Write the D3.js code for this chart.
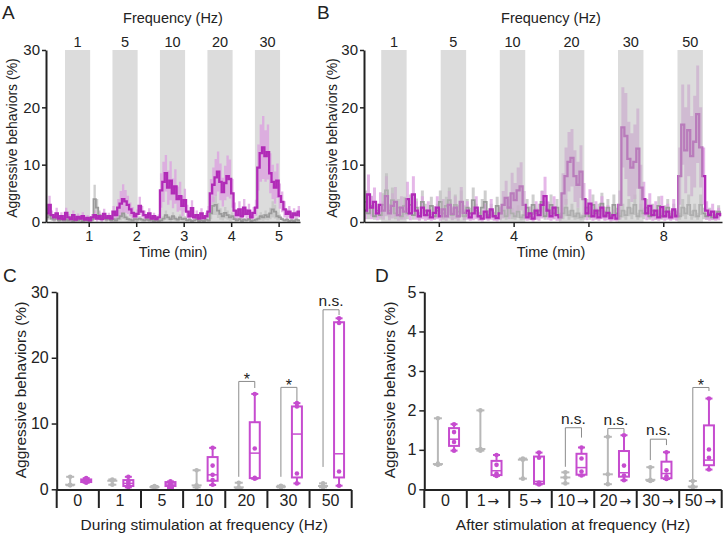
<!DOCTYPE html>
<html>
<head>
<meta charset="utf-8">
<script src="https://cdn.jsdelivr.net/npm/d3@7"></script>
<style>
body { margin: 0; background: #fff; }
svg { display: block; font-family: "Liberation Sans", Arial, sans-serif; }
</style>
</head>
<body>
<svg id="fig" width="725" height="535"></svg>
<script>
// ---- panel A : time course, 1-30 Hz (mean and sem, % aggressive behaviours) ----
var tA0 = 0.1, dtA = 0.05;
var bandStartA = [0.5, 1.5, 2.5, 3.5, 4.5], bandWA = 0.53;
var freqA = ["1", "5", "10", "20", "30"];
var ticksA = [1, 2, 3, 4, 5];
var magA = [1.5,3.0,1.2,0.8,1.5,0.6,1.0,0.5,
  1.6,0.8,0.5,1.2,0.4,0.9,0.6,1.0,0.4,0.7,0.3,0.8,
  1.2,0.6,1.0,0.5,1.4,0.7,1.0,0.6,
  1.8,1.2,2.5,3.2,4.0,3.6,3.0,2.2,1.6,1.0,1.4,
  2.8,1.8,1.2,0.8,1.5,0.6,1.0,0.5,0.8,
  5.5,7.0,8.5,6.0,7.2,5.0,6.2,4.0,4.5,2.8,3.8,
  1.8,1.0,2.4,0.8,1.2,0.6,1.5,0.7,1.0,1.8,
  5.0,6.5,7.8,8.8,7.0,5.2,6.8,8.0,7.5,5.0,2.0,
  1.2,2.2,1.0,2.5,1.4,2.0,0.8,1.6,2.5,
  9.5,12.0,13.0,11.5,12.2,8.5,7.0,6.0,7.2,4.5,3.5,
  2.2,1.4,1.8,0.8,1.5,1.2,1.8,0.9];
var magSemA = [1.0,1.6,0.8,0.6,1.0,0.5,0.7,0.4,
  0.9,0.6,0.4,0.8,0.4,0.6,0.5,0.7,0.4,0.5,0.3,0.6,
  0.8,0.5,0.7,0.4,0.9,0.5,0.6,0.5,
  1.0,0.8,1.5,2.2,2.6,2.0,1.6,1.2,1.0,0.7,0.8,
  1.6,1.0,0.8,0.6,0.9,0.5,0.6,0.4,0.5,
  3.0,3.5,3.2,3.0,3.4,2.6,3.0,2.2,2.5,1.8,2.0,
  1.2,0.7,1.4,0.5,0.8,0.5,0.9,0.5,0.6,1.0,
  2.5,3.0,3.2,3.5,3.2,2.5,3.0,3.6,3.4,2.5,1.4,
  0.8,1.4,0.7,1.5,0.9,1.2,0.6,1.0,1.4,
  4.0,5.0,5.5,4.5,4.8,3.5,3.0,2.8,3.0,2.2,1.8,
  1.4,0.9,1.0,0.6,0.9,0.7,1.0,0.6];
var greyA = [0.8,1.2,0.6,0.4,0.9,0.3,0.5,0.3,
  0.4,0.3,0.5,0.2,0.4,0.3,0.5,0.2,0.4,0.3,0.6,0.4,
  4.0,2.5,1.2,0.5,0.8,0.4,0.6,0.3,
  0.5,0.3,0.6,1.0,1.5,0.8,0.5,0.4,0.3,0.5,0.4,
  0.6,0.4,0.3,0.5,0.3,0.4,0.2,0.3,0.2,
  0.3,0.6,1.2,0.8,0.5,1.0,0.6,0.4,0.8,0.5,0.6,
  0.3,0.4,0.2,0.3,0.5,0.2,0.3,0.2,0.4,0.3,
  1.5,2.8,3.0,2.0,1.4,1.0,1.6,1.2,0.8,1.0,0.5,
  0.3,0.5,0.2,0.4,0.3,0.5,0.2,0.3,0.4,
  0.6,1.0,0.8,1.2,0.9,1.5,2.2,1.8,1.0,0.8,0.5,
  0.3,0.4,0.2,0.3,0.2,0.4,0.3,0.2];
var greySemA = [0.5,0.8,0.4,0.3,0.6,0.2,0.4,0.2,
  0.3,0.2,0.3,0.2,0.3,0.2,0.3,0.2,0.3,0.2,0.4,0.3,
  2.5,1.5,0.8,0.4,0.5,0.3,0.4,0.2,
  0.4,0.2,0.4,0.7,1.0,0.5,0.4,0.3,0.2,0.3,0.3,
  0.4,0.3,0.2,0.3,0.2,0.3,0.2,0.2,0.2,
  0.2,0.4,0.8,0.5,0.4,0.7,0.4,0.3,0.5,0.3,0.4,
  0.2,0.3,0.2,0.2,0.3,0.2,0.2,0.2,0.3,0.2,
  1.0,1.6,1.8,1.3,1.0,0.7,1.0,0.8,0.6,0.7,0.4,
  0.2,0.3,0.2,0.3,0.2,0.3,0.2,0.2,0.3,
  0.4,0.7,0.6,0.8,0.6,1.0,1.4,1.2,0.7,0.5,0.3,
  0.2,0.3,0.2,0.2,0.2,0.3,0.2,0.2];

// ---- panel B : time course, 1-50 Hz ----
var tB0 = 0, dtB = 0.08;
var bandStartB = [0.46, 2.05, 3.63, 5.21, 6.79, 8.38], bandWB = 0.68;
var freqB = ["1", "5", "10", "20", "30", "50"];
var ticksB = [2, 4, 6, 8];
var magB = [2.0,4.8,2.5,3.5,1.5,3.0,
  2.0,4.5,1.5,2.8,3.5,1.2,2.5,1.8,4.0,
  1.5,4.8,2.0,1.0,2.5,1.2,2.0,0.8,1.6,2.5,1.0,
  2.2,1.0,3.0,1.4,2.5,1.0,3.5,1.6,2.0,
  0.8,1.5,2.5,1.0,0.6,1.8,0.8,2.2,1.0,0.7,1.5,
  3.0,4.2,2.5,5.0,3.8,5.5,6.2,3.0,
  0.8,1.5,0.6,2.0,1.2,3.0,4.5,2.0,1.0,2.5,1.2,0.8,
  5.0,8.0,10.5,11.2,8.0,6.5,8.8,4.0,
  1.5,3.2,1.0,2.0,0.8,2.5,1.0,1.6,0.7,1.2,0.6,
  3.0,16.5,15.0,11.0,9.5,10.5,12.8,6.0,4.0,
  1.5,2.8,1.2,2.0,0.8,2.6,1.0,1.8,0.8,2.2,1.0,
  8.0,17.0,12.5,16.0,11.5,14.0,18.8,13.0,8.0,
  2.0,1.2,1.8,0.8,1.4,1.0];
var magSemB = [1.5,3.5,2.0,2.5,1.2,2.2,
  1.6,3.5,1.2,2.2,2.6,1.0,2.0,1.4,3.0,
  1.2,3.2,1.6,0.8,2.0,1.0,1.6,0.6,1.2,2.0,0.8,
  1.8,0.8,2.4,1.1,2.0,0.8,2.6,1.3,1.6,
  0.6,1.2,2.0,0.8,0.5,1.4,0.6,1.8,0.8,0.6,1.2,
  2.4,3.0,2.0,3.6,3.0,4.0,4.2,2.4,
  0.6,1.2,0.5,1.6,1.0,2.4,3.4,1.6,0.8,2.0,1.0,0.6,
  3.5,5.0,5.2,5.0,4.5,4.0,4.6,2.8,
  1.2,2.5,0.8,1.6,0.6,2.0,0.8,1.3,0.6,1.0,0.5,
  2.5,7.0,7.5,6.5,6.0,6.5,7.0,4.0,3.0,
  1.2,2.2,1.0,1.6,0.6,2.0,0.8,1.4,0.6,1.8,0.8,
  5.0,7.0,7.5,8.0,7.0,8.0,8.5,7.0,5.0,
  1.6,1.0,1.4,0.6,1.1,0.8];
var greyB = [3.5,1.5,2.8,1.0,2.0,1.2,
  3.0,5.5,2.0,3.8,1.5,2.5,1.0,2.8,1.5,
  3.0,1.2,2.5,1.0,3.5,2.0,1.2,2.8,1.0,2.0,3.5,
  1.5,2.8,3.8,1.2,3.0,1.8,3.5,1.0,2.5,
  1.5,3.8,2.0,1.0,2.5,3.5,1.2,2.0,1.0,2.8,1.5,
  2.0,1.0,2.5,1.5,1.0,1.8,0.8,1.2,
  2.5,1.0,3.0,1.5,2.0,3.5,1.0,2.2,3.0,1.5,2.5,1.0,
  1.5,2.5,1.2,2.0,1.0,1.5,0.8,1.0,
  2.5,1.0,3.0,1.5,2.0,3.2,1.2,2.5,1.0,3.0,1.5,
  1.0,2.0,1.2,2.5,1.5,3.0,1.0,2.0,1.5,
  2.5,1.0,2.0,1.2,2.8,1.0,1.8,2.5,1.0,2.0,1.2,
  1.0,2.5,1.5,3.0,1.2,2.0,1.0,3.0,1.5,
  1.0,1.5,0.8,1.2,1.8,1.0];
var greySemB = [2.0,1.0,1.8,0.6,1.2,0.8,
  2.0,3.0,1.2,2.2,1.0,1.5,0.6,1.6,1.0,
  1.8,0.8,1.6,0.6,2.0,1.2,0.8,1.6,0.6,1.2,2.0,
  1.0,1.6,2.2,0.8,1.8,1.1,2.0,0.6,1.5,
  1.0,2.2,1.2,0.6,1.5,2.0,0.8,1.2,0.6,1.6,1.0,
  1.2,0.6,1.5,1.0,0.6,1.1,0.5,0.8,
  1.5,0.6,1.8,1.0,1.2,2.0,0.6,1.3,1.8,1.0,1.5,0.6,
  1.0,1.5,0.8,1.2,0.6,1.0,0.5,0.6,
  1.5,0.6,1.8,1.0,1.2,1.9,0.8,1.5,0.6,1.8,1.0,
  0.6,1.2,0.8,1.5,1.0,1.8,0.6,1.2,1.0,
  1.5,0.6,1.2,0.8,1.7,0.6,1.1,1.5,0.6,1.2,0.8,
  0.6,1.5,1.0,1.8,0.8,1.2,0.6,1.8,1.0,
  0.6,1.0,0.5,0.8,1.1,0.6];

// ---- panel C : during stimulation (box plots) ----
var catsC = ["0", "1", "5", "10", "20", "30", "50"];
var cGreyLo = [0.6, 0.7, 0.25, 0.3, 0.1, 0.3, 0.3];
var cGreyMed = [0.7, 1.3, 0.35, 0.6, 0.3, 0.4, 0.5];
var cGreyHi = [1.9, 1.5, 0.5, 2.9, 1.0, 0.55, 0.9];
var cGreyPts = [[0.6,0.7,1.9],[0.7,1.3,1.5],[0.25,0.35,0.5],[0.3,0.6,2.9],[0.1,0.3,1.0],[0.3,0.4,0.55],[0.3,0.5,0.9]];
var cMagLo = [1.0, 0.3, 0.2, 0.65, 1.6, 0.9, 0.55];
var cMagQ1 = [1.1, 0.5, 0.5, 1.3, 1.7, 1.8, 1.8];
var cMagMed = [1.3, 0.9, 0.8, 2.2, 5.5, 8.4, 5.4];
var cMagQ3 = [1.5, 1.4, 1.1, 4.9, 10.2, 12.6, 25.4];
var cMagHi = [1.7, 1.9, 1.2, 6.3, 14.5, 13.1, 26.0];
var cMagPts = [[1.0,1.2,1.3,1.45,1.7],[0.3,0.6,0.9,1.2,1.9],[0.2,0.6,0.8,1.0,1.2],[0.7,1.4,2.2,3.6,6.3],[1.6,1.75,6.2,14.5],[0.9,2.4,12.6,13.1],[0.55,2.7,25.3,26.0]];
var cSigCat = ["20", "30", "50"];
var cSigText = ["*", "*", "n.s."];
var cSigTop = [16.4, 15.5, 27.3];
var cSigLeft = [1.9, 1.9, 3.4];
var cSigRight = [15.4, 13.3, 26.5];

// ---- panel D : after stimulation (box plots) ----
var catsD = ["0", "1", "5", "10", "20", "30", "50"];
var catArrowD = [false, true, true, true, true, true, true];
var dGreyLo = [0.62, 0.98, 0.27, 0.15, 0.13, 0.21, 0.05];
var dGreyMed = [0.64, 1.02, 0.75, 0.3, 0.38, 0.24, 0.07];
var dGreyHi = [1.8, 2.0, 0.78, 0.43, 1.33, 0.56, 0.21];
var dGreyPts = [[0.62,0.65,1.8],[0.98,1.02,2.0],[0.27,0.75,0.78],[0.15,0.3,0.43],[0.13,0.38,1.33],[0.21,0.24,0.56],[0.05,0.07,0.21]];
var dMagLo = [0.98, 0.34, 0.12, 0.35, 0.23, 0.26, 0.5];
var dMagQ1 = [1.1, 0.36, 0.14, 0.37, 0.32, 0.28, 0.61];
var dMagMed = [1.27, 0.47, 0.2, 0.55, 0.42, 0.4, 0.74];
var dMagQ3 = [1.55, 0.72, 0.83, 0.9, 0.97, 0.7, 1.62];
var dMagHi = [1.65, 0.87, 0.93, 1.06, 1.37, 0.94, 2.3];
var dMagPts = [[0.98,1.2,1.45,1.65],[0.34,0.4,0.62,0.87],[0.12,0.17,0.8,0.93],[0.35,0.45,0.78,1.06],[0.23,0.35,0.6,1.37],[0.26,0.33,0.48,0.94],[0.5,0.8,1.01,2.3]];
var dSigCat = ["10", "20", "30", "50"];
var dSigText = ["n.s.", "n.s.", "n.s.", "*"];
var dSigTop = [1.56, 1.54, 1.27, 2.58];
var dSigLeft = [0.57, 1.35, 0.74, 0.24];
var dSigRight = [1.31, 1.42, 1.12, 2.49];

(function() {
	var svg = d3.select("#fig");
	var ink = "#222", mag = "#b12ab7", magLight = "#dc9fe0", magBox = "#c64ccf",
		grey = "#9a9a9a", greyLight = "#c6c6c6", greyBox = "#b8b8b8", bandFill = "#dcdcdc";
	var intFmt = d3.format("d");

	function styleAxis(ax, fs) {
		ax.select(".domain").attr("stroke", ink).attr("stroke-width", 2);
		ax.selectAll(".tick line").attr("stroke", ink).attr("stroke-width", 1.5);
		ax.selectAll(".tick text").attr("fill", ink).style("font-size", fs + "px").style("font-family", "inherit");
	}

	function text(x, y, s, fs, anchor) {
		return svg.append("text").attr("x", x).attr("y", y).attr("fill", ink)
			.style("font-size", fs + "px").attr("text-anchor", anchor || "middle").text(s);
	}

	//time course panel
	function tracePanel(o) {
		var x = d3.scaleLinear().domain(o.dom).range([o.left, o.right]);
		var y = d3.scaleLinear().domain([0, 30]).range([222, 50]);
		var g = svg.append("g");
		svg.append("clipPath").attr("id", "clip" + o.id).append("rect")
			.attr("x", o.left).attr("y", 30).attr("width", o.right - o.left).attr("height", 192);

		function bands(op, fill) {
			g.append("g").selectAll("rect").data(o.bandStart).enter().append("rect")
				.attr("x", function(d) { return x(d); })
				.attr("width", function(d) { return x(d + o.bandW) - x(d); })
				.attr("y", y(30)).attr("height", y(0) - y(30))
				.attr("fill", fill).attr("opacity", op);
		}
		if (!o.bandsOnTop) bands(1, bandFill);

		function pts(m, s, t0, dt) {
			return m.map(function(v, i) { return { t: t0 + i * dt, m: v, s: s[i] }; });
		}
		var gp = pts(o.grey, o.greySem, o.t0, o.dt), mp = pts(o.mag, o.magSem, o.t0, o.dt);
		var area = d3.area().curve(d3.curveStepAfter)
			.x(function(d) { return x(d.t); })
			.y0(function(d) { return y(Math.max(0, d.m - d.s)); })
			.y1(function(d) { return y(d.m + d.s); });
		var line = d3.line().curve(d3.curveStepAfter)
			.x(function(d) { return x(d.t); })
			.y(function(d) { return y(d.m); });

		var dg = g.append("g").attr("clip-path", "url(#clip" + o.id + ")");
		dg.append("path").attr("d", area(gp)).attr("fill", greyLight).attr("opacity", 0.85);
		dg.append("path").attr("d", area(mp)).attr("fill", magLight).attr("opacity", 0.75);
		dg.append("path").attr("d", line(gp)).attr("fill", "none").attr("stroke", grey).attr("stroke-width", 1.8);
		dg.append("path").attr("d", line(mp)).attr("fill", "none").attr("stroke", mag).attr("stroke-width", 2.3);

		if (o.bandsOnTop) bands(0.55, "#c0c0c0");

		//frequency labels over bands
		o.bandStart.forEach(function(b, i) { text(x(b + o.bandW / 2), 46.5, o.freq[i], 14.5); });
		text(o.freqX, 22.5, "Frequency (Hz)", 14.5);

		//axes
		var ay = g.append("g").attr("transform", "translate(" + o.left + ",0)")
			.call(d3.axisLeft(y).tickValues([0, 10, 20, 30]).tickFormat(intFmt).tickSize(4).tickSizeOuter(0).tickPadding(2));
		styleAxis(ay, 15);
		var ax = g.append("g").attr("transform", "translate(0," + y(0) + ")")
			.call(d3.axisBottom(x).tickValues(o.ticks).tickFormat(intFmt).tickSize(5).tickSizeOuter(0).tickPadding(4));
		styleAxis(ax, 14.5);
		ax.select(".domain").attr("stroke-width", 1.5);

		text(o.timeX, 257, "Time (min)", 14.5);
		svg.append("text").attr("transform", "translate(" + o.titleX + ",138) rotate(-90)")
			.attr("text-anchor", "middle").attr("fill", ink).style("font-size", "14px")
			.text("Aggressive behaviors (%)");
		text(o.labelX, 18.5, o.label, 19, "start");
	}

	//box plot panel
	function boxPanel(o) {
		var y = d3.scaleLinear().domain([0, o.max]).range([489.3, 292]);
		var xb = d3.scaleBand().domain(o.cats).range([o.left, o.right]);
		var bw = xb.bandwidth();
		var gx = function(c) { return xb(c) + bw * 0.32; };
		var mx = function(c) { return xb(c) + bw * 0.70; };
		var g = svg.append("g");
		var axY = 490, axBot = 508;

		//significance brackets
		o.sigCat.forEach(function(c, i) {
			g.append("path")
				.attr("d", "M" + gx(c) + "," + y(o.sigLeft[i]) + "V" + y(o.sigTop[i]) + "H" + mx(c) + "V" + y(o.sigRight[i]))
				.attr("fill", "none").attr("stroke", "#8c8c8c").attr("stroke-width", 1);
			var isStar = o.sigText[i] === "*";
			text((gx(c) + mx(c)) / 2, y(o.sigTop[i]) + (isStar ? 4 : -4), o.sigText[i], isStar ? 16 : 15.5);
		});

		//control (grey) groups: range, median and animals
		o.cats.forEach(function(c, i) {
			var cx = gx(c);
			g.append("line").attr("x1", cx).attr("x2", cx).attr("y1", y(o.gLo[i])).attr("y2", y(o.gHi[i]))
				.attr("stroke", greyBox).attr("stroke-width", 2);
			[o.gLo[i], o.gMed[i], o.gHi[i]].forEach(function(v, k) {
				var w = k === 1 ? 5 : 4;
				g.append("line").attr("x1", cx - w).attr("x2", cx + w).attr("y1", y(v)).attr("y2", y(v))
					.attr("stroke", greyBox).attr("stroke-width", 2);
			});
			g.selectAll(null).data(o.gPts[i]).enter().append("circle")
				.attr("cx", cx).attr("cy", function(d) { return y(d); }).attr("r", 2.3).attr("fill", greyBox);
		});

		//stimulated (magenta) groups: box and whiskers
		o.cats.forEach(function(c, i) {
			var cx = mx(c);
			g.append("line").attr("x1", cx).attr("x2", cx).attr("y1", y(o.mLo[i])).attr("y2", y(o.mQ1[i]))
				.attr("stroke", magBox).attr("stroke-width", 2);
			g.append("line").attr("x1", cx).attr("x2", cx).attr("y1", y(o.mQ3[i])).attr("y2", y(o.mHi[i]))
				.attr("stroke", magBox).attr("stroke-width", 2);
			[o.mLo[i], o.mHi[i]].forEach(function(v) {
				g.append("line").attr("x1", cx - 3.5).attr("x2", cx + 3.5).attr("y1", y(v)).attr("y2", y(v))
					.attr("stroke", magBox).attr("stroke-width", 2);
			});
			g.append("rect").attr("x", cx - 5).attr("width", 10)
				.attr("y", y(o.mQ3[i])).attr("height", Math.max(0.5, y(o.mQ1[i]) - y(o.mQ3[i])))
				.attr("fill", "none").attr("stroke", magBox).attr("stroke-width", 2);
			g.append("line").attr("x1", cx - 5).attr("x2", cx + 5).attr("y1", y(o.mMed[i])).attr("y2", y(o.mMed[i]))
				.attr("stroke", magBox).attr("stroke-width", 1.5);
			g.selectAll(null).data(o.mPts[i]).enter().append("circle")
				.attr("cx", cx).attr("cy", function(d) { return y(d); }).attr("r", 2.3).attr("fill", magBox);
		});

		//y axis
		var ay = g.append("g").attr("transform", "translate(" + o.left + ",0)")
			.call(d3.axisLeft(y).tickValues(o.ticks).tickFormat(intFmt).tickSize(5).tickSizeOuter(0).tickPadding(3));
		styleAxis(ay, 16);
		g.append("line").attr("x1", o.left).attr("x2", o.left).attr("y1", y(0)).attr("y2", axBot)
			.attr("stroke", ink).attr("stroke-width", 2);

		//category axis with dividers
		g.append("line").attr("x1", o.left).attr("x2", o.right).attr("y1", axY).attr("y2", axY)
			.attr("stroke", ink).attr("stroke-width", 2);
		o.cats.slice(1).concat(["end"]).forEach(function(c) {
			var bx = c === "end" ? o.right : xb(c);
			g.append("line").attr("x1", bx).attr("x2", bx).attr("y1", axY).attr("y2", axBot)
				.attr("stroke", ink).attr("stroke-width", 2);
		});
		o.cats.forEach(function(c, i) {
			var t = text(xb(c) + bw / 2, 506, c, 16);
			if (o.arrows && o.arrows[i])
				t.append("tspan").attr("dx", 2).style("font-family", "'DejaVu Sans'").style("font-size", "14px").text("\u2192");
		});

		text((o.left + o.right) / 2, 530, o.xTitle, 15.5);
		svg.append("text").attr("transform", "translate(" + o.titleX + ",390) rotate(-90)")
			.attr("text-anchor", "middle").attr("fill", ink).style("font-size", "15.5px")
			.text("Aggressive behaviors (%)");
		text(o.labelX, 282, o.label, 19, "start");
	}

	tracePanel({ id: "A", left: 46, right: 300, dom: [0.1, 5.45], t0: tA0, dt: dtA,
		mag: magA, magSem: magSemA, grey: greyA, greySem: greySemA,
		bandStart: bandStartA, bandW: bandWA, freq: freqA, ticks: ticksA,
		bandsOnTop: false, freqX: 173, timeX: 173, titleX: 17, label: "A", labelX: 2 });

	tracePanel({ id: "B", left: 364, right: 722, dom: [0, 9.57], t0: tB0, dt: dtB,
		mag: magB, magSem: magSemB, grey: greyB, greySem: greySemB,
		bandStart: bandStartB, bandW: bandWB, freq: freqB, ticks: ticksB,
		bandsOnTop: true, freqX: 551, timeX: 551, titleX: 336.5, label: "B", labelX: 317 });

	boxPanel({ left: 56.7, right: 351.7, max: 30, ticks: [0, 10, 20, 30], cats: catsC,
		gLo: cGreyLo, gMed: cGreyMed, gHi: cGreyHi, gPts: cGreyPts,
		mLo: cMagLo, mQ1: cMagQ1, mMed: cMagMed, mQ3: cMagQ3, mHi: cMagHi, mPts: cMagPts,
		sigCat: cSigCat, sigText: cSigText, sigTop: cSigTop, sigLeft: cSigLeft, sigRight: cSigRight,
		xTitle: "During stimulation at frequency (Hz)", titleX: 26, label: "C", labelX: 3 });

	boxPanel({ left: 424.3, right: 721.7, max: 5, ticks: [0, 1, 2, 3, 4, 5], cats: catsD, arrows: catArrowD,
		gLo: dGreyLo, gMed: dGreyMed, gHi: dGreyHi, gPts: dGreyPts,
		mLo: dMagLo, mQ1: dMagQ1, mMed: dMagMed, mQ3: dMagQ3, mHi: dMagHi, mPts: dMagPts,
		sigCat: dSigCat, sigText: dSigText, sigTop: dSigTop, sigLeft: dSigLeft, sigRight: dSigRight,
		xTitle: "After stimulation at frequency (Hz)", titleX: 394.5, label: "D", labelX: 375 });
})();
</script>
</body>
</html>
